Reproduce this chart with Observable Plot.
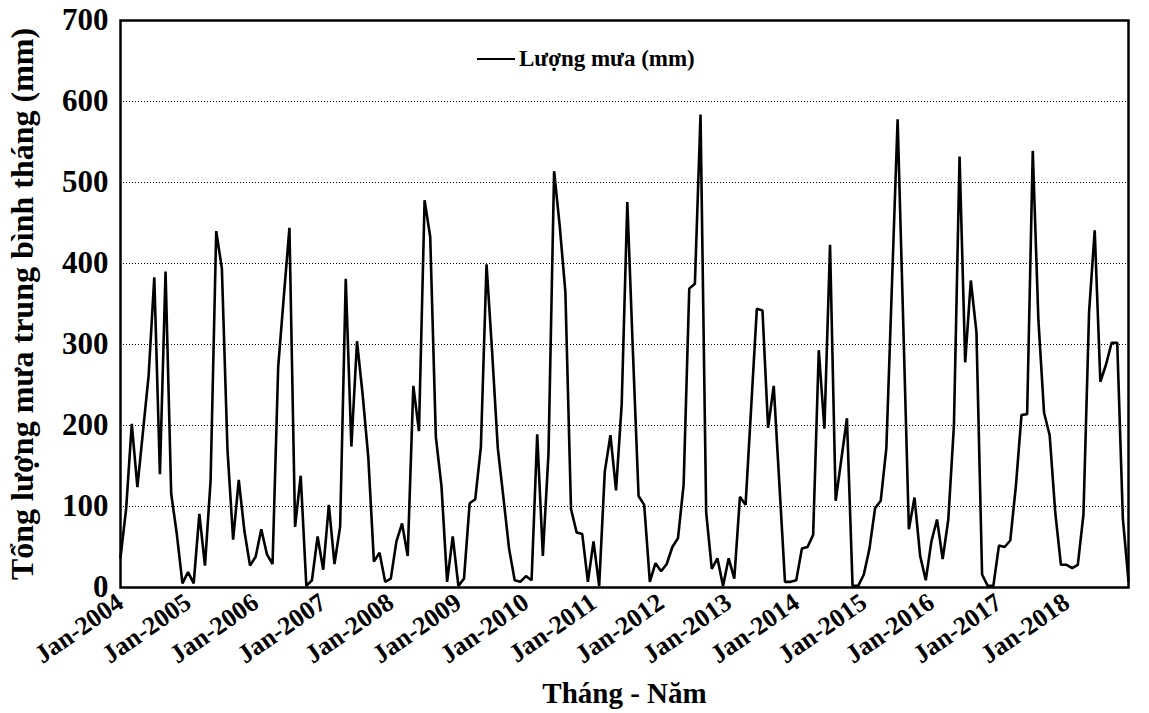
<!DOCTYPE html>
<html>
<head>
<meta charset="utf-8">
<script src="https://cdn.jsdelivr.net/npm/d3@7"></script>
<script src="https://cdn.jsdelivr.net/npm/@observablehq/plot@0.6"></script>
<style>
  html, body { margin: 0; padding: 0; background: #fff; }
  #wrap { position: relative; width: 1149px; height: 713px; font-family: "Liberation Serif", "Times New Roman", serif; font-weight: bold; }
  #legend { position: absolute; left: 477px; top: 45px; height: 28px; display: flex; align-items: center; font-size: 23px; color: #000; white-space: nowrap; }
  #legend .swatch { width: 38px; height: 0; border-top: 2.6px solid #000; margin-right: 4px; }
</style>
</head>
<body>
<div id="wrap">
  <div id="chart"></div>
  <div id="legend"><span class="swatch"></span><span>Lượng mưa (mm)</span></div>
</div>
<script>
// Monthly rainfall (mm), Jan-2004 .. Dec-2018
const rain2004 = [37, 97, 202, 124, 193, 262, 383, 140, 390, 116, 66, 5];
const rain2005 = [19, 5, 91, 27, 132, 440, 394, 170, 59, 133, 70, 27];
const rain2006 = [38, 72, 41, 29, 272, 359, 444, 75, 138, 2, 9, 63];
const rain2007 = [22, 102, 29, 75, 381, 174, 304, 238, 161, 32, 43, 7];
const rain2008 = [11, 57, 79, 39, 249, 193, 478, 433, 186, 125, 7, 63];
const rain2009 = [2, 11, 104, 109, 174, 399, 290, 172, 111, 48, 9, 7];
const rain2010 = [14, 9, 189, 39, 165, 514, 446, 365, 97, 68, 66, 7];
const rain2011 = [57, 2, 143, 188, 120, 226, 476, 290, 113, 102, 7, 30];
const rain2012 = [20, 29, 50, 61, 127, 369, 375, 584, 93, 23, 36, 2];
const rain2013 = [36, 11, 112, 102, 223, 344, 342, 197, 249, 128, 7, 7];
const rain2014 = [9, 48, 50, 65, 293, 196, 423, 107, 158, 209, 2, 2];
const rain2015 = [16, 48, 98, 107, 172, 375, 578, 326, 72, 111, 39, 9];
const rain2016 = [57, 84, 35, 84, 200, 532, 278, 379, 315, 16, 2, 2];
const rain2017 = [52, 50, 58, 125, 213, 214, 539, 330, 216, 188, 92, 28];
const rain2018 = [28, 24, 28, 90, 340, 441, 254, 275, 302, 302, 85, 8];

const tickLabels = ["Jan-2004","Jan-2005","Jan-2006","Jan-2007","Jan-2008","Jan-2009","Jan-2010","Jan-2011","Jan-2012","Jan-2013","Jan-2014","Jan-2015","Jan-2016","Jan-2017","Jan-2018"];
const yTicks = [0, 100, 200, 300, 400, 500, 600, 700];
const gridValues = [100, 200, 300, 400, 500, 600];
const seriesName = "Lượng mưa (mm)";
const yTitle = "Tổng lượng mưa trung bình tháng (mm)";
const xTitle = "Tháng - Năm";

const values = [].concat(rain2004, rain2005, rain2006, rain2007, rain2008, rain2009, rain2010,
  rain2011, rain2012, rain2013, rain2014, rain2015, rain2016, rain2017, rain2018);
const data = values.map((v, i) => ({i, v}));
const tickPos = tickLabels.map((_, k) => k * 12);

const chart = Plot.plot({
  width: 1149,
  height: 713,
  marginLeft: 120,
  marginRight: 21,
  marginTop: 20,
  marginBottom: 126,
  style: {fontFamily: "Liberation Serif, Times New Roman, serif", fontWeight: "bold", color: "#000", background: "#fff"},
  x: {domain: [0, values.length - 1]},
  y: {domain: [0, 700]},
  marks: [
    Plot.ruleY(gridValues, {stroke: "#000", strokeWidth: 1, strokeDasharray: "1,2"}),
    Plot.line(data, {x: "i", y: "v", stroke: "#000", strokeWidth: 2.6, strokeLinejoin: "miter"}),
    Plot.frame({stroke: "#000", strokeWidth: 2.5}),
    Plot.axisY({ticks: yTicks, tickSize: 0, tickPadding: 12, fontSize: 31, label: null}),
    Plot.axisX({ticks: tickPos, tickFormat: d => tickLabels[d / 12], tickRotate: -35, tickSize: 0, tickPadding: 12, fontSize: 26, label: null}),
    Plot.text([yTitle], {text: d => d, frameAnchor: "left", textAnchor: "middle", rotate: -90, dx: -98, fontSize: 32, fontWeight: "bold"}),
    Plot.text([xTitle], {text: d => d, frameAnchor: "bottom", dy: 115, fontSize: 29, fontWeight: "bold"})
  ]
});
document.getElementById("chart").appendChild(chart);
</script>
</body>
</html>
